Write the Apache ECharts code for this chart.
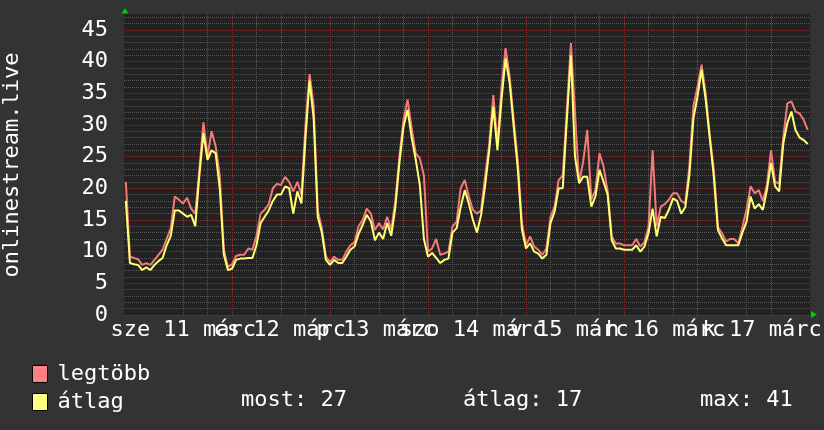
<!DOCTYPE html>
<html><head><meta charset="utf-8">
<script src="https://cdn.jsdelivr.net/npm/echarts@6.0.0/dist/echarts.min.js"></script>
<style>html,body{margin:0;padding:0;background:#333333;}#c{width:824px;height:430px;}</style>
</head><body><div id="c"></div>
<script>
// hours relative to 2026-03-11 00:00
const startHour = -2;
const stepHours = 1;
const axisStartHour = -2.45;
const axisEndHour = 165.55;

const maxValues = [
  21, 9.2,
  9, 8.8, 7.9, 8.2, 7.9, 8.7, 9.5, 10.3, 12, 13.7, 18.7, 18.2, 17.6, 18.5, 16.8, 16, 22.9, 30.4, 25, 29, 26.6, 22, 10.3, 7.6,
  8, 9.3, 9.5, 9.5, 10.5, 10.3, 12.5, 16, 16.6, 17.5, 20, 20.7, 20.5, 21.8, 21, 19.5, 21, 19, 30, 38, 33, 16.5, 13.7, 9.2,
  8.4, 9.2, 8.7, 8.7, 10, 11, 11.5, 14, 15, 16.8, 16, 13.4, 14.5, 13.5, 15.5, 13.5, 18, 25, 30.8, 34, 29.5, 25.5, 24.7, 22,
  10, 10.5, 12, 9.5, 9.7, 10, 14, 14.7, 20, 21.3, 18.7, 16.6, 16, 16.5, 22, 27, 34.7, 27, 36, 42.1, 37.6, 30.8, 24.2, 14.5,
  11, 12.4, 10.8, 10.3, 9.5, 10.5, 15.5, 17.1, 21.3, 22, 32.4, 42.9, 32, 20.8, 24.2, 29.2, 18.2, 19.7, 25.5, 23.4, 19.5, 12.4, 11.3, 11.3,
  11, 11, 11, 12, 10.8, 11.5, 13.9, 26, 14, 17.1, 17.5, 18.2, 19.2, 19.2, 18, 17.6, 23.4, 33, 36, 39.5, 35, 28.4, 22.9, 13.9,
  12.9, 11.6, 12, 12, 11.3, 13.9, 16.6, 20.3, 19.2, 19.7, 18, 20.5, 26, 21, 20.8, 28, 33.4, 33.7, 32.1, 31.8, 30.8, 29.2
];
const avgValues = [
  18, 8.2,
  8, 7.9, 7.1, 7.5, 7.1, 7.9, 8.5, 9, 11, 12.5, 16.5, 16.5, 16, 15.5, 15.8, 14, 22, 28.7, 24.5, 26, 25.5, 20, 9.5, 7.1,
  7.3, 8.7, 8.9, 8.9, 9, 9, 11, 14.5, 15.5, 16.5, 18, 19, 19, 20.3, 20, 16, 19.5, 17.6, 28, 37, 31, 15.5, 13, 8.7,
  7.9, 8.7, 8.2, 8.2, 9.2, 10.3, 10.8, 12.8, 14.2, 15.8, 14.8, 11.8, 13, 12, 14.5, 12.5, 17, 24, 29.7, 32.4, 28, 24.5, 20.5, 12,
  9.2, 9.8, 9, 8.2, 8.7, 8.9, 13, 13.7, 17, 19.7, 17.6, 15, 13, 15.8, 20.5, 26, 32.9, 26, 34, 40.5, 36.6, 29.7, 23, 13.5,
  10.5, 11.3, 10, 9.7, 8.9, 9.5, 14.5, 16.3, 20, 20, 30.8, 41, 25, 20.8, 21.8, 21.8, 17.1, 18.7, 22.9, 21, 19, 11.8, 10.5, 10.5,
  10.3, 10.3, 10.3, 11, 10, 10.8, 12.9, 16.8, 12.4, 15.5, 15.3, 16.6, 18.4, 18, 16, 17, 22, 31, 34.5, 38.7, 34, 27.9, 21.8, 13.4,
  12.1, 11, 11, 11, 11, 13, 14.7, 18.7, 16.8, 17.5, 16.6, 19.7, 24, 20.3, 19.5, 27, 30.3, 32.1, 29.2, 28, 27.6, 27
];
const dayLabels = ['sze 11 márc', 'cs 12 márc', 'p 13 márc', 'szo 14 márc', 'v 15 márc', 'h 16 márc', 'k 17 márc'];
const minorGridHours = [6, 12, 18, 30, 36, 42, 54, 60, 66, 78, 84, 90, 102, 108, 114, 126, 132, 138, 150, 156, 162];
const majorGridHours = [0, 24, 48, 72, 96, 120, 144];
const seriesNames = ['legtöbb', 'átlag'];
const axisTitle = 'onlinestream.live';
const statLabels = ['most: 27', 'átlag: 17', 'max: 41'];
const yMin = 0, yMax = 47.5, yInterval = 5;

const FONT = 'DejaVu Sans Mono';
const MAJOR = '#7e3434';
const MINOR = '#575757';

const toPairs = arr => arr.map((v, i) => [startHour + i * stepHours, v]);

const gridAxis = (ticks, color) => ({
  type: 'value', gridIndex: 0, min: axisStartHour, max: axisEndHour,
  axisLine: {show: false}, axisLabel: {show: false},
  axisTick: {show: false, customValues: ticks},
  splitLine: {show: true, showMinLine: false, showMaxLine: false,
    lineStyle: {color: color, type: [1, 1], width: 1}}
});

const chart = echarts.init(document.getElementById('c'), null, {renderer: 'canvas'});
chart.setOption({
  backgroundColor: '#333333',
  animation: false,
  grid: [
    {left: 124, top: 14, width: 686, height: 301, show: true, backgroundColor: '#222222', borderWidth: 0},
    {left: 135, top: 14, width: 686, height: 301, show: false}
  ],
  xAxis: [
    gridAxis(minorGridHours, MINOR),
    {type: 'category', gridIndex: 1, data: dayLabels, boundaryGap: true,
     axisLine: {show: false}, axisTick: {show: false}, splitLine: {show: false},
     axisLabel: {interval: 0, color: '#ffffff', fontFamily: FONT, fontSize: 22, margin: 4, hideOverlap: false}},
    gridAxis(majorGridHours, MAJOR)
  ],
  yAxis: [
    {type: 'value', gridIndex: 0, min: yMin, max: yMax, interval: yInterval,
     axisLine: {show: false}, axisTick: {show: false},
     axisLabel: {color: '#ffffff', fontFamily: FONT, fontSize: 22, margin: 16, showMaxLabel: false},
     splitLine: {show: true, showMaxLine: false, lineStyle: {color: MAJOR, type: [1, 1], width: 1}},
     minorTick: {show: false, splitNumber: 5},
     minorSplitLine: {show: true, lineStyle: {color: MINOR, type: [1, 1], width: 1}}},
    {type: 'value', gridIndex: 1, show: false}
  ],
  legend: {
    data: seriesNames, orient: 'vertical', left: 32, top: 363, padding: 0,
    icon: 'rect', itemWidth: 15, itemHeight: 17, itemGap: 6, selectedMode: false,
    itemStyle: {borderColor: '#000000', borderWidth: 1},
    textStyle: {color: '#ffffff', fontFamily: FONT, fontSize: 22, padding: [0, 0, 0, 5]}
  },
  series: [
    {name: seriesNames[0], type: 'line', xAxisIndex: 0, yAxisIndex: 0, data: toPairs(maxValues),
     showSymbol: false, symbol: 'none', color: '#ff8080', lineStyle: {color: '#f47a7a', width: 2}, z: 3},
    {name: seriesNames[1], type: 'line', xAxisIndex: 0, yAxisIndex: 0, data: toPairs(avgValues),
     showSymbol: false, symbol: 'none', color: '#ffff80', lineStyle: {color: '#ffff72', width: 2}, z: 4}
  ],
  graphic: [
    {type: 'text', x: 12, y: 165, rotation: Math.PI / 2,
     style: {text: axisTitle, fill: '#ffffff', font: '22px ' + FONT, align: 'center', verticalAlign: 'middle'}},
    {type: 'text', left: 241, top: 389, style: {text: statLabels[0], fill: '#ffffff', font: '22px ' + FONT}},
    {type: 'text', left: 463, top: 389, style: {text: statLabels[1], fill: '#ffffff', font: '22px ' + FONT}},
    {type: 'text', left: 700, top: 389, style: {text: statLabels[2], fill: '#ffffff', font: '22px ' + FONT}},
    {type: 'polygon', shape: {points: [[125, 8], [121.5, 13.5], [128.5, 13.5]]}, style: {fill: '#00cc00'}},
    {type: 'polygon', shape: {points: [[817, 314.5], [811, 311], [811, 318]]}, style: {fill: '#00cc00'}}
  ]
});
</script></body></html>
